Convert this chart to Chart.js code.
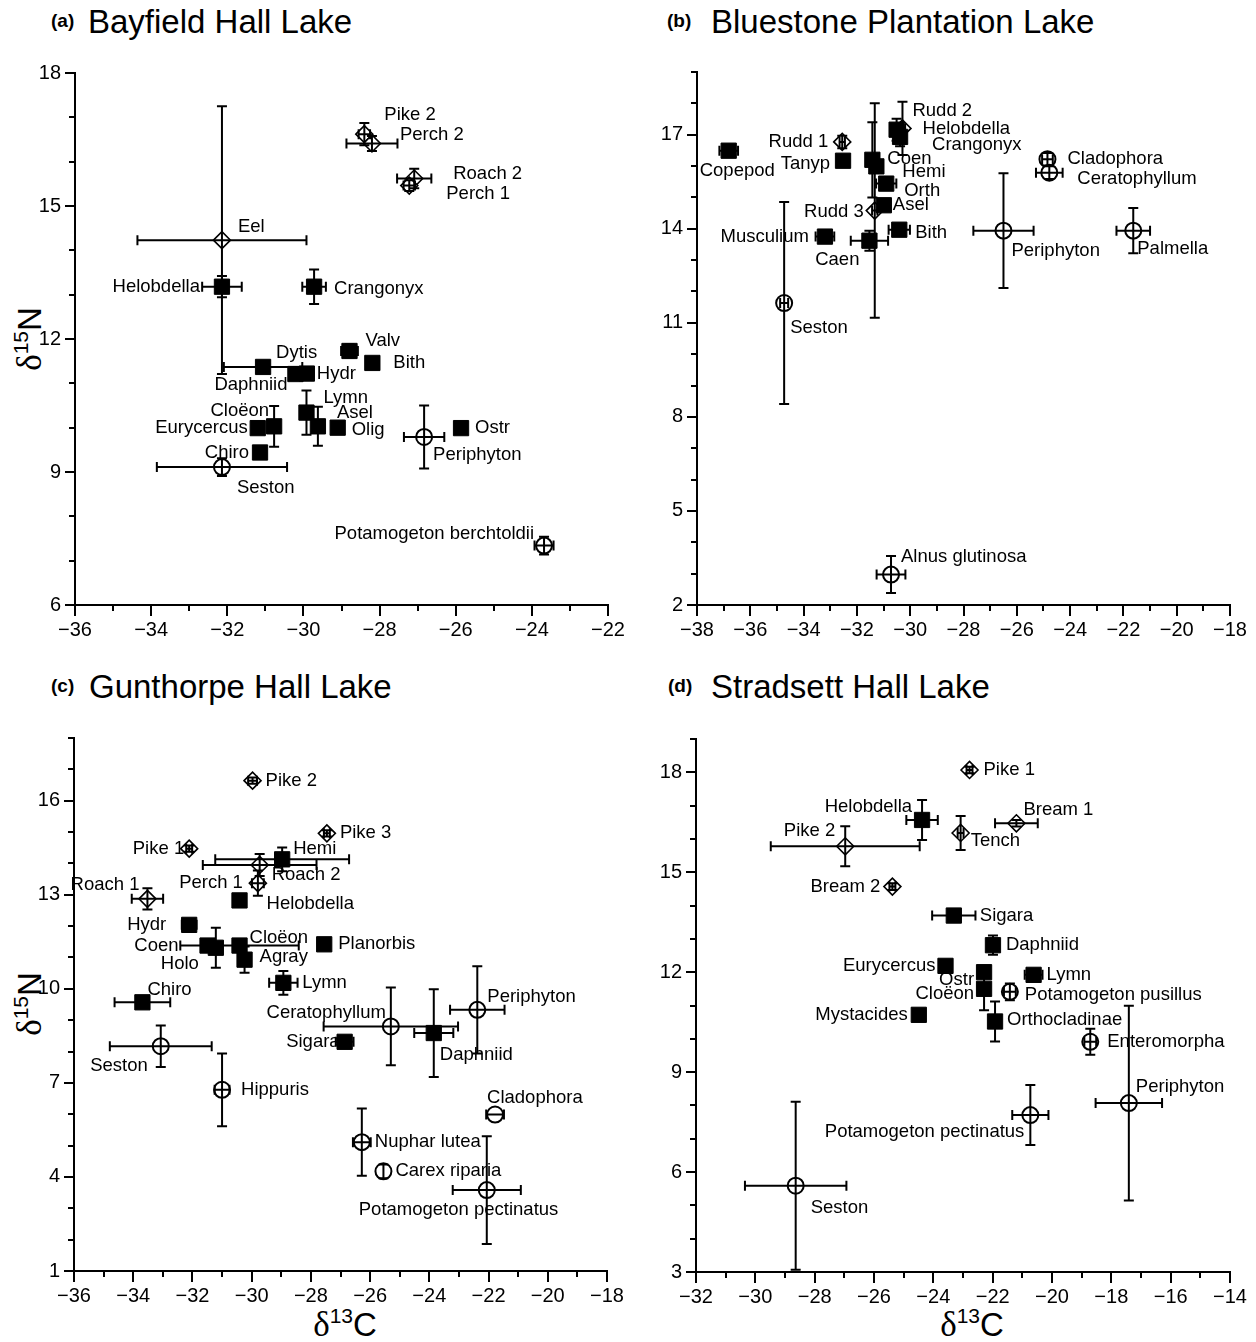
<!DOCTYPE html>
<html>
<head>
<meta charset="utf-8">
<script src="https://cdn.jsdelivr.net/npm/chart.js@4.4.0/dist/chart.umd.min.js"></script>
<style>
body{margin:0;background:#fff;width:1256px;height:1342px;position:relative;overflow:hidden;font-family:"Liberation Sans",Arial,sans-serif;color:#000}
canvas{position:absolute}
.tag{position:absolute;font-weight:bold;font-size:19px;line-height:1}
.name{position:absolute;font-size:33px;line-height:1;white-space:nowrap}
.axt{position:absolute;width:140px;height:44px;line-height:44px;text-align:center;font-size:33px;white-space:nowrap}
.axt .d{font-family:"Liberation Serif",serif;font-size:35px}
.axt sup{font-size:21px;line-height:0;vertical-align:13px}
.rot{transform:rotate(-90deg)}
</style>
</head>
<body>
<div class="tag" style="left:51px;top:11px">(a)</div><div class="name" style="left:88px;top:5px">Bayfield Hall Lake</div>
<div class="tag" style="left:667px;top:11px">(b)</div><div class="name" style="left:711px;top:5px">Bluestone Plantation Lake</div>
<div class="tag" style="left:51px;top:676px">(c)</div><div class="name" style="left:89px;top:670px">Gunthorpe Hall Lake</div>
<div class="tag" style="left:668px;top:676px">(d)</div><div class="name" style="left:711px;top:670px">Stradsett Hall Lake</div>
<div class="axt rot" style="left:-40px;top:317px"><span class="d">δ</span><sup>15</sup>N</div>
<div class="axt rot" style="left:-40px;top:982px"><span class="d">δ</span><sup>15</sup>N</div>
<div class="axt" style="left:275px;top:1303px"><span class="d">δ</span><sup>13</sup>C</div>
<div class="axt" style="left:902px;top:1303px"><span class="d">δ</span><sup>13</sup>C</div>

<script>
// (a) Bayfield Hall Lake
const aNames = ['Pike 2','Perch 2','Roach 2','Perch 1','Eel','Helobdella','Crangonyx','Dytis','Daphniid','Hydr','Valv','Bith','Lymn','Cloëon','Eurycercus','Asel','Olig','Chiro','Seston','Periphyton','Ostr','Potamogeton berchtoldii'];
const aX = [-28.40,-28.20,-27.09,-27.22,-32.14,-32.14,-29.72,-31.06,-30.21,-29.91,-28.79,-28.19,-29.92,-30.77,-31.20,-29.62,-29.10,-31.14,-32.14,-26.83,-25.86,-23.68];
const aY = [16.62,16.41,15.62,15.46,14.23,13.18,13.18,11.37,11.21,11.22,11.73,11.46,10.34,10.03,9.99,10.03,10.00,9.44,9.11,9.79,9.99,7.34];
const aXErr = [0.15,0.67,0.45,0.15,2.22,0.52,0.31,1.03,0.15,0.10,0.22,0,0.10,0.10,0,0.10,0,0,1.71,0.53,0,0.25];
const aYErr = [0.25,0.17,0.22,0.12,3.02,0.24,0.39,0.10,0.10,0.10,0.15,0,0.50,0.46,0,0.44,0,0,0.20,0.71,0,0.20];
const aGroup = ['fish','fish','fish','fish','fish','invert','invert','invert','invert','invert','invert','invert','invert','invert','invert','invert','invert','invert','plant','plant','invert','plant'];
const aXAxis = [-36, -22];
const aYAxis = [6, 18];
const aXTicks = [-36,-34,-32,-30,-28,-26,-24,-22];
const aYTicks = [6,9,12,15,18];

// (b) Bluestone Plantation Lake
const bNames = ['Copepod','Rudd 1','Tanyp','Rudd 2','Helobdella','Crangonyx','Coen','Hemi','Orth','Asel','Rudd 3','Musculium','Caen','Bith','Seston','Periphyton','Cladophora','Ceratophyllum','Palmella','Alnus glutinosa'];
const bX = [-36.81,-32.55,-32.52,-30.29,-30.51,-30.38,-31.42,-31.27,-30.90,-30.99,-31.33,-33.20,-31.53,-30.41,-34.73,-26.50,-24.85,-24.78,-21.63,-30.72];
const bY = [16.49,16.77,16.17,17.20,17.16,16.93,16.20,15.99,15.44,14.75,14.58,13.75,13.62,13.97,11.63,13.94,16.22,15.79,13.94,2.97];
const bXErr = [0.35,0.10,0,0.10,0.10,0.10,0.10,0.15,0.38,0.15,0.10,0.35,0.70,0.40,0.15,1.13,0.20,0.50,0.63,0.54];
const bYErr = [0.10,0.20,0,0.85,0.35,0.30,1.20,0.15,0.15,0.10,3.42,0.10,0.32,0.10,3.22,1.83,0.20,0.20,0.72,0.59];
const bGroup = ['invert','fish','invert','fish','invert','invert','invert','invert','invert','invert','fish','invert','invert','invert','plant','plant','plant','plant','plant','plant'];
const bXAxis = [-38, -18];
const bYAxis = [2, 19];
const bXTicks = [-38,-36,-34,-32,-30,-28,-26,-24,-22,-20,-18];
const bYTicks = [2,5,8,11,14,17];

// (c) Gunthorpe Hall Lake
const cNames = ['Pike 2','Pike 3','Pike 1','Hemi','Roach 2','Perch 1','Roach 1','Helobdella','Hydr','Cloëon','Coen','Holo','Agray','Planorbis','Lymn','Chiro','Seston','Hippuris','Sigara','Ceratophyllum','Daphniid','Periphyton','Cladophora','Nuphar lutea','Carex riparia','Potamogeton pectinatus'];
const cX = [-29.97,-27.46,-32.11,-28.97,-29.73,-29.79,-33.52,-30.41,-32.11,-30.41,-31.49,-31.21,-30.24,-27.55,-28.93,-33.69,-33.07,-31.00,-26.86,-25.30,-23.85,-22.38,-21.78,-26.28,-25.55,-22.06];
const cY = [16.64,14.96,14.47,14.13,13.95,13.37,12.87,12.82,12.04,11.38,11.38,11.31,10.93,11.42,10.19,9.57,8.17,6.78,8.31,8.80,8.59,9.33,5.99,5.11,4.18,3.58];
const cXErr = [0.15,0.10,0.10,2.26,1.92,0.20,0.53,0,0.25,2.00,0.15,0.15,0.10,0,0.48,0.94,1.72,0.25,0.30,2.27,0.66,0.92,0.30,0.30,0,1.15];
const cYErr = [0.10,0.10,0.10,0.38,0.35,0.40,0.34,0,0.10,0.15,0.10,0.64,0.42,0,0.38,0.10,0.66,1.16,0.10,1.24,1.40,1.39,0,1.07,0.22,1.72];
const cGroup = ['fish','fish','fish','invert','fish','fish','fish','invert','invert','invert','invert','invert','invert','invert','invert','invert','plant','plant','invert','plant','invert','plant','plant','plant','plant','plant'];
const cXAxis = [-36, -18];
const cYAxis = [1, 18];
const cXTicks = [-36,-34,-32,-30,-28,-26,-24,-22,-20,-18];
const cYTicks = [1,4,7,10,13,16];

// (d) Stradsett Hall Lake
const dNames = ['Pike 1','Helobdella','Tench','Bream 1','Pike 2','Bream 2','Sigara','Daphniid','Eurycercus','Ostr','Cloëon','Lymn','Potamogeton pusillus','Mystacides','Orthocladinae','Enteromorpha','Periphyton','Potamogeton pectinatus','Seston'];
const dX = [-22.78,-24.38,-23.08,-21.20,-26.97,-25.38,-23.31,-21.99,-23.59,-22.29,-22.29,-20.62,-21.42,-24.49,-21.92,-18.71,-17.41,-20.73,-28.64];
const dY = [18.07,16.57,16.18,16.47,15.78,14.57,13.70,12.81,12.19,12.00,11.50,11.92,11.41,10.72,10.52,9.91,8.07,7.71,5.59];
const dXErr = [0.10,0.53,0.10,0.72,2.51,0.10,0.73,0.10,0,0.10,0.10,0.30,0.20,0,0.10,0.20,1.12,0.61,1.71];
const dYErr = [0.10,0.60,0.51,0.10,0.60,0.10,0.10,0.29,0,0.10,0.64,0.10,0.25,0,0.60,0.39,2.92,0.90,2.52];
const dGroup = ['fish','invert','fish','fish','fish','fish','invert','invert','invert','invert','invert','invert','plant','invert','invert','plant','plant','plant','plant'];
const dXAxis = [-32, -14];
const dYAxis = [3, 19];
const dXTicks = [-32,-30,-28,-26,-24,-22,-20,-18,-16,-14];
const dYTicks = [3,6,9,12,15,18];

// label placement: [dx, dy, align] in px from the point
const aLabelPos = [[20,-19,'left'],[28,-9,'left'],[39,-5,'left'],[37,8,'left'],[16,-13,'left'],[-22,0,'right'],[20,2,'left'],[13,-14,'left'],[-8,11,'right'],[10,0,'left'],[16,-10,'left'],[21,0,'left'],[17,-15,'left'],[-5,-15,'right'],[-10,0,'right'],[19,-13,'left'],[14,2,'left'],[-11,0,'right'],[15,21,'left'],[9,18,'left'],[14,0,'left'],[-10,-12,'right']];
const bLabelPos = [[-29,20,'left'],[-14,0,'right'],[-13,3,'right'],[10,-18,'left'],[26,-1,'left'],[32,8,'left'],[15,-1,'left'],[26,6,'left'],[18,7,'left'],[9,0,'left'],[-11,1,'right'],[-16,0,'right'],[-10,19,'right'],[16,3,'left'],[6,25,'left'],[8,20,'left'],[20,0,'left'],[28,6,'left'],[4,18,'left'],[10,-18,'left']];
const cLabelPos = [[13,0,'left'],[13,0,'left'],[-5,0,'right'],[11,-10,'left'],[12,10,'left'],[-15,0,'right'],[-8,-14,'right'],[27,3,'left'],[-23,0,'right'],[10,-8,'left'],[-29,0,'right'],[-17,16,'right'],[15,-3,'left'],[14,0,'left'],[19,0,'left'],[5,-12,'left'],[-13,20,'right'],[19,0,'left'],[-5,0,'right'],[-5,-14,'right'],[6,22,'left'],[10,-13,'left'],[-8,-17,'left'],[13,0,'left'],[12,0,'left'],[-128,20,'left']];
const dLabelPos = [[14,0,'left'],[-10,-13,'right'],[10,8,'left'],[7,-13,'left'],[-10,-15,'right'],[-12,0,'right'],[26,0,'left'],[13,0,'left'],[-10,0,'right'],[-10,8,'right'],[-10,5,'right'],[13,0,'left'],[15,3,'left'],[-11,0,'right'],[12,-2,'left'],[17,0,'left'],[7,-16,'left'],[-6,17,'right'],[15,22,'left']];

const FONT = '"Liberation Sans", Arial, sans-serif';

const markerStyle = {
  invert: {pointStyle: 'rect', pointRadius: 10.8, backgroundColor: '#000', borderColor: '#000', borderWidth: 1},
  fish:   {pointStyle: 'rectRot', pointRadius: 8.5, backgroundColor: '#fff', borderColor: '#000', borderWidth: 1.6},
  plant:  {pointStyle: 'circle', pointRadius: 8, backgroundColor: '#fff', borderColor: '#000', borderWidth: 2}
};

// ticks: majors long, minors short, both outward
const tickMarks = {
  id: 'tickMarks',
  afterDraw(chart, args, opts) {
    const ctx = chart.ctx, xs = chart.scales.x, ys = chart.scales.y;
    const base = chart.chartArea;
    ctx.save();
    ctx.strokeStyle = '#000';
    ctx.lineWidth = 2;
    xs.ticks.forEach(t => {
      const px = Math.round(xs.getPixelForValue(t.value));
      const len = opts.xMajors.includes(t.value) ? 11 : 6;
      ctx.beginPath(); ctx.moveTo(px, base.bottom); ctx.lineTo(px, base.bottom + len); ctx.stroke();
    });
    ys.ticks.forEach(t => {
      const py = Math.round(ys.getPixelForValue(t.value));
      const len = opts.yMajors.includes(t.value) ? 10 : 6;
      ctx.beginPath(); ctx.moveTo(base.left, py); ctx.lineTo(base.left - len, py); ctx.stroke();
    });
    ctx.restore();
  }
};

const errorBars = {
  id: 'errorBars',
  afterDatasetsDraw(chart) {
    const ctx = chart.ctx, xs = chart.scales.x, ys = chart.scales.y;
    const CAP = 5;
    ctx.save();
    ctx.strokeStyle = '#000';
    ctx.lineWidth = 2;
    chart.data.datasets.forEach(ds => ds.data.forEach(d => {
      const px = xs.getPixelForValue(d.x), py = ys.getPixelForValue(d.y);
      ctx.beginPath();
      if (d.xErr > 0) {
        const l = xs.getPixelForValue(d.x - d.xErr), r = xs.getPixelForValue(d.x + d.xErr);
        ctx.moveTo(l, py); ctx.lineTo(r, py);
        ctx.moveTo(l, py - CAP); ctx.lineTo(l, py + CAP);
        ctx.moveTo(r, py - CAP); ctx.lineTo(r, py + CAP);
      }
      if (d.yErr > 0) {
        const t = ys.getPixelForValue(d.y + d.yErr), b = ys.getPixelForValue(d.y - d.yErr);
        ctx.moveTo(px, t); ctx.lineTo(px, b);
        ctx.moveTo(px - CAP, t); ctx.lineTo(px + CAP, t);
        ctx.moveTo(px - CAP, b); ctx.lineTo(px + CAP, b);
      }
      ctx.stroke();
    }));
    ctx.restore();
  }
};

const pointLabels = {
  id: 'pointLabels',
  afterDraw(chart) {
    const ctx = chart.ctx, xs = chart.scales.x, ys = chart.scales.y;
    ctx.save();
    ctx.fillStyle = '#000';
    ctx.font = '18.5px ' + FONT;
    ctx.textBaseline = 'middle';
    chart.data.datasets.forEach(ds => ds.data.forEach(d => {
      const px = xs.getPixelForValue(d.x), py = ys.getPixelForValue(d.y);
      ctx.textAlign = d.lab[2];
      ctx.fillText(d.name, px + d.lab[0], py + d.lab[1]);
    }));
    ctx.restore();
  }
};

function axisOpts(range, majors, isX, fitSize) {
  return {
    type: 'linear',
    min: range[0],
    max: range[1],
    afterBuildTicks: s => {
      const t = [];
      for (let v = range[0]; v <= range[1]; v++) t.push({value: v});
      s.ticks = t;
    },
    afterFit: s => {
      if (isX) { s.height = fitSize; s.paddingLeft = 0; s.paddingRight = 0; }
      else { s.width = fitSize; s.paddingTop = 0; s.paddingBottom = 0; }
    },
    grid: {display: false, drawTicks: false},
    border: {display: true, color: '#000', width: 2},
    ticks: {
      autoSkip: false, maxRotation: 0, color: '#000',
      padding: isX ? 13 : 14,
      font: {family: FONT, size: 20},
      callback: v => majors.includes(v) ? String(v).replace('-', '\u2212') : ''
    }
  };
}

function makePanel(p) {
  const cv = document.createElement('canvas');
  cv.width = p.w; cv.height = p.h;
  cv.style.left = p.left + 'px'; cv.style.top = p.top + 'px';
  cv.style.width = p.w + 'px'; cv.style.height = p.h + 'px';
  document.body.appendChild(cv);

  const datasets = ['invert', 'fish', 'plant'].map(g => {
    const rows = [];
    p.names.forEach((n, i) => {
      if (p.group[i] === g) {
        rows.push({x: p.x[i], y: p.y[i], xErr: p.xErr[i], yErr: p.yErr[i], name: n, lab: p.labelPos[i]});
      }
    });
    return Object.assign({label: g, data: rows, clip: false}, markerStyle[g], {pointHoverRadius: markerStyle[g].pointRadius});
  });

  // wanted plot area inside the canvas
  const want = {left: p.area[0] - p.left, top: p.area[1] - p.top, right: p.area[2] - p.left, bottom: p.area[3] - p.top};

  const chart = new Chart(cv, {
    type: 'scatter',
    data: {datasets},
    options: {
      responsive: false,
      animation: false,
      devicePixelRatio: 1,
      events: [],
      layout: {padding: {left: 0, top: want.top, right: p.w - want.right, bottom: 0}},
      plugins: {
        legend: {display: false},
        tooltip: {enabled: false},
        tickMarks: {xMajors: p.xTicks, yMajors: p.yTicks}
      },
      scales: {
        x: axisOpts(p.xAxis, p.xTicks, true, p.h - want.bottom),
        y: axisOpts(p.yAxis, p.yTicks, false, want.left)
      }
    },
    plugins: [tickMarks, errorBars, pointLabels]
  });

  // nudge padding until the plot area sits where wanted
  for (let k = 0; k < 3; k++) {
    const ca = chart.chartArea;
    const pd = Object.assign({}, chart.options.layout.padding);
    const dt = want.top - ca.top, dr = ca.right - want.right, dl = want.left - ca.left, db = ca.bottom - want.bottom;
    if (!dt && !dr && !dl && !db) break;
    pd.top += dt; pd.right += dr; pd.left += dl; pd.bottom += db;
    chart.options.layout.padding = pd;
    chart.update();
  }
}

makePanel({names: aNames, x: aX, y: aY, xErr: aXErr, yErr: aYErr, group: aGroup, labelPos: aLabelPos,
  xAxis: aXAxis, yAxis: aYAxis, xTicks: aXTicks, yTicks: aYTicks,
  left: 0, top: 50, w: 628, h: 620, area: [75, 73, 608, 605]});
makePanel({names: bNames, x: bX, y: bY, xErr: bXErr, yErr: bYErr, group: bGroup, labelPos: bLabelPos,
  xAxis: bXAxis, yAxis: bYAxis, xTicks: bXTicks, yTicks: bYTicks,
  left: 622, top: 50, w: 634, h: 620, area: [697, 72, 1230, 605]});
makePanel({names: cNames, x: cX, y: cY, xErr: cXErr, yErr: cYErr, group: cGroup, labelPos: cLabelPos,
  xAxis: cXAxis, yAxis: cYAxis, xTicks: cXTicks, yTicks: cYTicks,
  left: 0, top: 716, w: 628, h: 620, area: [74, 738, 607, 1271]});
makePanel({names: dNames, x: dX, y: dY, xErr: dXErr, yErr: dYErr, group: dGroup, labelPos: dLabelPos,
  xAxis: dXAxis, yAxis: dYAxis, xTicks: dXTicks, yTicks: dYTicks,
  left: 622, top: 716, w: 634, h: 620, area: [696, 739, 1230, 1272]});
</script>
</body>
</html>
